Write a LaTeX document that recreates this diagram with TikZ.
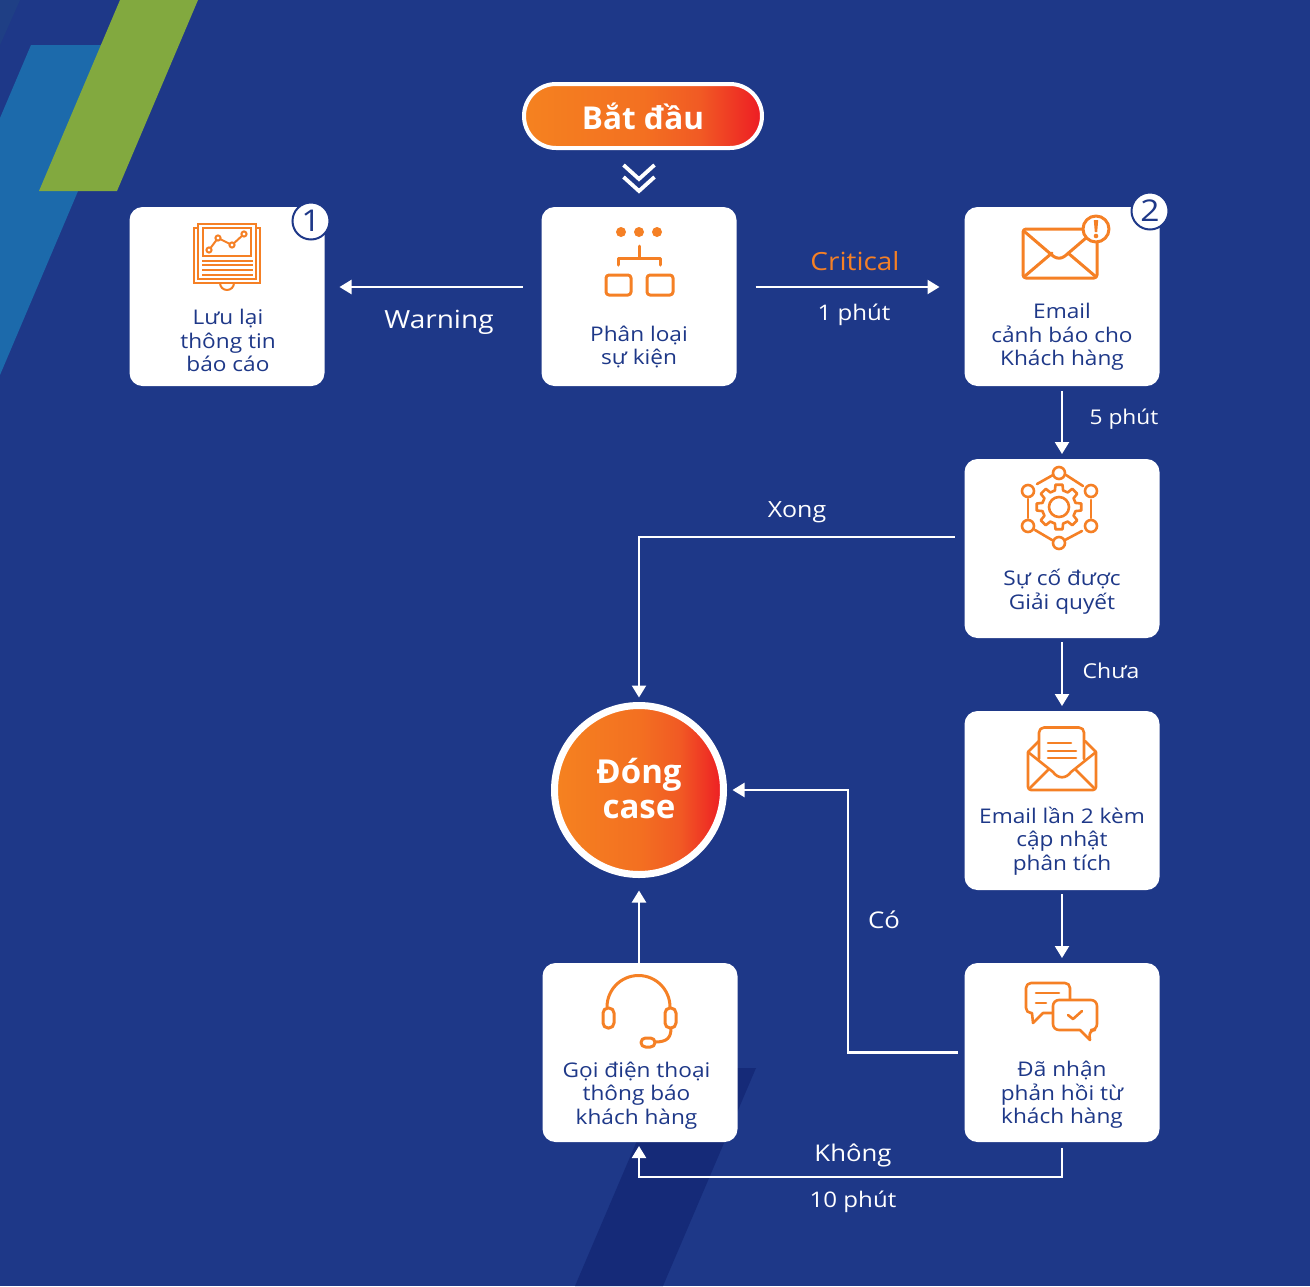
\documentclass[tikz,border=0pt]{standalone}
\usepackage{fontspec}
\setmainfont[FakeStretch=1.12]{Open Sans}
\newfontfamily\headfont{Open Sans}
\usetikzlibrary{arrows.meta}
\definecolor{bgc}{HTML}{1E3888}
\definecolor{darkc}{HTML}{152A78}
\definecolor{topc}{HTML}{1F3F85}
\definecolor{bluec}{HTML}{1C6AAB}
\definecolor{greenc}{HTML}{82A93F}
\definecolor{orc}{HTML}{F58025}
\definecolor{gra}{HTML}{F58220}
\definecolor{grb}{HTML}{F37021}
\definecolor{grc}{HTML}{F15A24}
\definecolor{redc}{HTML}{ED1C24}
\pgfdeclarehorizontalshading{startgrad}{100bp}{color(0bp)=(gra); color(25bp)=(gra); color(50bp)=(grb); color(62bp)=(grc); color(75bp)=(redc); color(100bp)=(redc)}
\tikzset{
  x=1pt,y=-1pt,
  card/.style={fill=white,rounded corners=13pt,minimum width=195pt,minimum height=179pt,inner sep=0pt,outer sep=0pt},
  boxtext/.style={text=bgc,align=center,inner sep=0pt,font=\fontsize{20.2}{23.5}\selectfont},
  flow/.style={draw=white,line width=2.2pt,-{Triangle[length=12pt,width=14pt]}},
  lab/.style={text=white,inner sep=0pt},
  icon/.style={draw=orc,line width=2.6pt,line cap=round,line join=round},
  badge/.style={circle,draw=bgc,fill=white,line width=2pt,minimum size=37pt,inner sep=0pt,text=bgc,font=\fontsize{30}{30}\selectfont},
  headtext/.style={text=white,align=center,inner sep=0pt}
}
\begin{document}
\begin{tikzpicture}
\useasboundingbox (0,0) rectangle (1310,1286);
\fill[bgc] (0,0) rectangle (1310,1286);
\fill[topc] (0,0) -- (20,0) -- (0,45) -- cycle;
\fill[bluec] (31,45) -- (140,45) -- (0,375) -- (0,118) -- cycle;
\fill[greenc] (120,0) -- (198,0) -- (117,191) -- (39,191) -- cycle;
\fill[darkc] (668,1068) -- (756,1068) -- (663,1286) -- (575,1286) -- cycle;

% cards
\node[card] (b1) at (227,296.5) {};
\node[card] (b2) at (639,296.5) {};
\node[card] (b3) at (1062,296.5) {};
\node[card] (b4) at (1062,548.5) {};
\node[card] (b5) at (1062,800.5) {};
\node[card] (b6) at (1062,1052.5) {};
\node[card] (b7) at (640,1052.5) {};

% start and end
\node[shading=startgrad,draw=white,line width=4pt,rounded corners=32pt,minimum width=238pt,minimum height=64pt,inner sep=0pt,outer sep=0pt] (start) at (643,116) {};
\node[headtext,font=\fontsize{31.5}{35}\headfont\bfseries] (startt) at (643,116) {Bắt đầu};
\node[circle,shading=startgrad,draw=white,line width=7pt,minimum size=169pt,inner sep=0pt,outer sep=0pt] (close) at (639,790) {};
\node[headtext,font=\fontsize{33}{35}\headfont\bfseries] (closet) at (639,788.5) {Đóng\\case};

% chevrons below the start
\coordinate (ch1) at (639,179);
\coordinate (ch2) at (639,191);
\draw[white,line width=3.8pt] ([shift={(-15.5,-14)}]ch1) -- (ch1) -- ([shift={(15.5,-14)}]ch1);
\draw[white,line width=3.8pt] ([shift={(-15.5,-14)}]ch2) -- (ch2) -- ([shift={(15.5,-14)}]ch2);

% card texts
\node[boxtext] (t1) at (228,340.5) {Lưu lại\\thông tin\\báo cáo};
\node[boxtext] (t2) at (639,347) {Phân loại\\sự kiện};
\node[boxtext] (t3) at (1062,337) {Email\\cảnh báo cho\\Khách hàng};
\node[boxtext] (t4) at (1062,591.5) {Sự cố được\\Giải quyết};
\node[boxtext] (t5) at (1062,841) {Email lần 2 kèm\\cập nhật\\phân tích};
\node[boxtext] (t6) at (1062,1095) {Đã nhận\\phản hồi từ\\khách hàng};
\node[boxtext] (t7) at (636.5,1095.5) {Gọi điện thoại\\thông báo\\khách hàng};

% badges
\node[badge] (n1) at (311,221) {1};
\node[badge] (n2) at (1150,211) {2};

% connectors
\draw[flow,shorten <=19pt,shorten >=15pt] ([yshift=9.5pt]b2.west) -- ([yshift=9.5pt]b1.east);
\draw[flow,shorten <=19pt,shorten >=25pt] ([yshift=9.5pt]b2.east) -- ([yshift=9.5pt]b3.west);
\draw[flow,shorten <=5pt,shorten >=5pt] (b3.south) -- (b4.north);
\draw[flow,shorten <=4pt,shorten >=5pt] (b4.south) -- (b5.north);
\draw[flow,shorten <=4pt,shorten >=5pt] (b5.south) -- (b6.north);
\draw[flow,shorten <=10pt,shorten >=8pt] ([yshift=11.5pt]b4.west) -| (close.north);
\draw[flow,shorten <=7pt,shorten >=9pt] (b6.west) -- (848,1052.5) -- (848,790) -- (close.east);
\draw[flow,shorten >=16pt] (b7.north -| close) -- (close.south);
\draw[flow,shorten <=6pt,shorten >=4pt] (b6.south) -- (1062,1177) -- (639,1177) -- (b7.south -| close);

% connector labels
\node[lab,font=\fontsize{25}{25}\selectfont] (lw) at (439,322) {Warning};
\node[lab,text=orc,font=\fontsize{25}{25}\selectfont] (lc) at (855,261) {Critical};
\node[lab,font=\fontsize{21.5}{24}\selectfont] (l1) at (854,315) {1 phút};
\node[lab,font=\fontsize{20.3}{22}\selectfont] (l5) at (1124,419) {5 phút};
\node[lab,font=\fontsize{22.3}{23}\selectfont] (lx) at (797,512.5) {Xong};
\node[lab,font=\fontsize{20.5}{22}\selectfont] (lch) at (1111,670.5) {Chưa};
\node[lab,font=\fontsize{23}{23}\selectfont] (lco) at (884,920) {Có};
\node[lab,font=\fontsize{23}{24}\selectfont] (lk) at (853,1155.5) {Không};
\node[lab,font=\fontsize{21.5}{24}\selectfont] (l10) at (853,1201.5) {10 phút};

% icon 1: report
\draw[icon,line width=2pt,line cap=butt,line join=miter] (198,228) -- (194,228) -- (194,283) -- (260,283) -- (260,228) -- (256,228);
\draw[icon,line width=2pt,line cap=butt,line join=miter] (198,279) -- (198,224) -- (256,224) -- (256,279) -- cycle;
\draw[icon,line width=2pt,line cap=butt,line join=miter] (203,228) rectangle (251,256);
\draw[icon,line width=2pt] (209,250) -- (218,238) -- (232,245) -- (244,234);
\foreach \p in {(209,250),(218,238),(232,245),(244,234)} \draw[icon,line width=2pt,fill=white] \p circle (2.6pt);
\foreach \yy in {261,265,270,275} \draw[icon,line width=1.7pt,line cap=butt] (202,\yy) -- (253,\yy);
\draw[icon,line width=2pt] (220,283) arc[start angle=180,end angle=360,radius=7pt];

% icon 2: classify
\foreach \xx in {621,639,657} \fill[orc] (\xx,232) circle (5pt);
\draw[icon,line width=3pt] (639,246) -- (639,258);
\draw[icon,line width=3pt] (618,265) -- (618,258) -- (660,258) -- (660,265);
\draw[icon,line width=3pt,rounded corners=3pt] (606,275) rectangle (631,295);
\draw[icon,line width=3pt,rounded corners=3pt] (647,275) rectangle (673,295);

% icon 3: envelope with alert
\draw[icon,line width=3pt,rounded corners=3pt] (1023,229) rectangle (1097,278);
\draw[icon,line width=3pt] (1025,232) -- (1053,256) .. controls (1057,259) and (1061,259) .. (1065,256) -- (1086,238);
\draw[icon,line width=3pt] (1025,276) -- (1052,253);
\draw[icon,line width=3pt] (1095,276) -- (1068,253);
\draw[icon,line width=3pt,fill=white] (1096,229) circle (13pt);
\fill[orc] (1093.8,220) -- (1098.2,220) -- (1097.2,232) -- (1094.8,232) -- cycle;
\fill[orc] (1096,236) circle (2.3pt);

% icon 4: gear and network
\draw[icon,line width=2.6pt] (1059,507) circle (10pt);
\draw[icon,line width=2.6pt,shift={(1059,507)}] (-14:17pt)
  \foreach \aa in {0,45,...,315}{ -- (\aa-14:17pt) -- (\aa-9:22.5pt) -- (\aa+9:22.5pt) -- (\aa+14:17pt)} -- cycle;
\foreach \p/\q in {1059/473,1091/491,1091/526,1059/543,1028/526,1028/491} \draw[icon,line width=2.6pt] (\p,\q) circle (6pt);
\draw[icon,line width=2.6pt] (1066,475) -- (1083,486);
\draw[icon,line width=2.6pt] (1091,500) -- (1091,518);
\draw[icon,line width=2.6pt] (1082,531) -- (1065,540);
\draw[icon,line width=2.6pt] (1052,540) -- (1035,530);
\draw[icon,line width=2.6pt] (1028,518) -- (1028,499);
\draw[icon,line width=2.6pt] (1037,484) -- (1053,475);

% icon 5: open envelope
\draw[icon,rounded corners=3pt] (1028,752) -- (1028,790) -- (1096,790) -- (1096,752);
\draw[icon] (1028,752) -- (1039,741);
\draw[icon] (1096,752) -- (1085,741);
\draw[icon,rounded corners=5pt] (1039,759) -- (1039,727.5) -- (1084,727.5) -- (1084,759);
\draw[icon] (1028,752) -- (1053,772) .. controls (1058,779) and (1066,779) .. (1071,772) -- (1096,752);
\draw[icon] (1030,788) -- (1048,770);
\draw[icon] (1094,788) -- (1076,770);
\draw[icon] (1048,743) -- (1071,743);
\draw[icon] (1048,751) -- (1076,751);
\draw[icon] (1048,758) -- (1076,758);

% icon 6: speech bubbles
\draw[icon,rounded corners=5pt] (1053,1013) [sharp corners] -- (1043,1013) -- (1033,1023) -- (1032,1013) [rounded corners=5pt] -- (1026,1013) -- (1026,983) -- (1070,983) -- (1070,1000);
\draw[icon] (1036,993) -- (1059,993);
\draw[icon] (1036,1003) -- (1046,1003);
\draw[icon,fill=white,rounded corners=6pt] (1075,1000) -- (1097,1000) -- (1097,1030) -- (1089,1030) [sharp corners] -- (1090,1040) -- (1080,1030) [rounded corners=6pt] -- (1053,1030) -- (1053,1000) -- cycle;
\draw[icon] (1068,1015) -- (1073,1019) -- (1082,1011);

% icon 7: headset
\draw[icon,line width=3pt] (607,1007) arc[start angle=180,end angle=0,radius=31.5pt];
\draw[icon,line width=3pt,fill=white,rounded corners=5pt] (603,1008) rectangle (614,1028);
\draw[icon,line width=3pt,fill=white,rounded corners=5pt] (665,1008) rectangle (676,1028);
\draw[icon,line width=3pt] (671,1028) .. controls (671,1037) and (668,1042) .. (655,1042);
\draw[icon,line width=3pt,fill=white,rounded corners=4.5pt] (641,1038) rectangle (655,1047);
\end{tikzpicture}
\end{document}
